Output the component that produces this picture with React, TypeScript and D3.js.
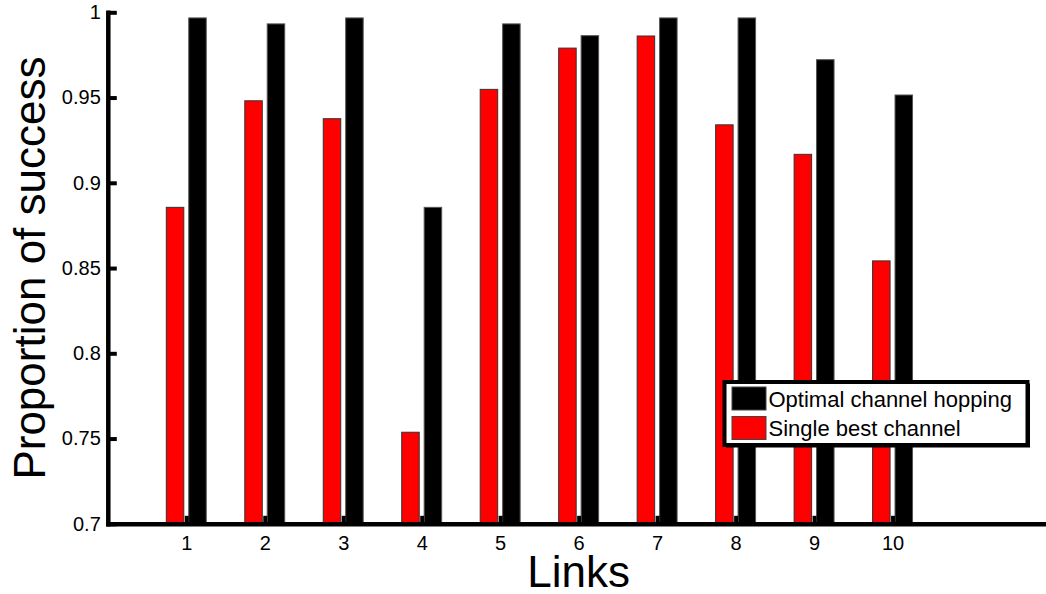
import * as d3 from "d3";
import React, { useEffect, useRef } from "react";

// link numbers on the x axis
const links = [1, 2, 3, 4, 5, 6, 7, 8, 9, 10];
// proportion of success per link
const optimalHopping = [0.9967, 0.9932, 0.9967, 0.8856, 0.9932, 0.9863, 0.9967, 0.9967, 0.9722, 0.9515];
const singleBest = [0.8856, 0.9481, 0.9376, 0.7537, 0.9548, 0.979, 0.9861, 0.934, 0.9167, 0.8542];
const yTicks = [0.7, 0.75, 0.8, 0.85, 0.9, 0.95, 1];
const seriesNames = ["Optimal channel hopping", "Single best channel"];
const seriesColors = ["#000000", "#ff0000"];

const W = 1046;
const H = 594;
const FONT = "'Liberation Sans', Arial, Helvetica, sans-serif";

const App: React.FC = () => {
  const svgRef = useRef<SVGSVGElement>(null);

  useEffect(() => {
    if (!svgRef.current) return;
    const svg = d3.select(svgRef.current);
    svg.selectAll("*").remove();

    const x = d3.scaleLinear().domain([0, 12]).range([107.8, 1049.5]);
    const y = d3.scaleLinear().domain([0.7, 1]).range([523.8, 12.3]);

    const barW = 0.223; // in link units
    const offset = 0.143;

    const data = links.map((l, i) => ({
      link: l,
      single: singleBest[i],
      hop: optimalHopping[i],
    }));

    // red bars (single best channel)
    svg
      .append("g")
      .selectAll("rect")
      .data(data)
      .enter()
      .append("rect")
      .attr("x", (d) => x(d.link - offset - barW / 2))
      .attr("width", x(barW) - x(0))
      .attr("y", (d) => y(d.single))
      .attr("height", (d) => y(0.7) - y(d.single))
      .attr("fill", seriesColors[1])
      .attr("stroke", "#333")
      .attr("stroke-width", 1);

    // black bars (optimal channel hopping)
    svg
      .append("g")
      .selectAll("rect")
      .data(data)
      .enter()
      .append("rect")
      .attr("x", (d) => x(d.link + offset - barW / 2))
      .attr("width", x(barW) - x(0))
      .attr("y", (d) => y(d.hop))
      .attr("height", (d) => y(0.7) - y(d.hop))
      .attr("fill", seriesColors[0])
      .attr("stroke", "#555")
      .attr("stroke-width", 1);

    // axes
    const yAxis = svg
      .append("g")
      .attr("transform", `translate(${x(0)},0)`)
      .call(
        d3
          .axisLeft(y)
          .tickValues(yTicks)
          .tickFormat((d) => String(d))
          .tickSizeInner(-9)
          .tickSizeOuter(0)
          .tickPadding(7)
      );
    yAxis.select(".domain").attr("stroke-width", 4.5).attr("stroke-linecap", "square");
    yAxis.selectAll(".tick line").attr("stroke-width", 4);
    yAxis
      .selectAll(".tick text")
      .attr("font-size", 20)
      .attr("font-family", FONT)
      .attr("fill", "#000");

    const xAxis = svg
      .append("g")
      .attr("transform", `translate(0,${y(0.7)})`)
      .call(
        d3
          .axisBottom(x)
          .tickValues(links)
          .tickFormat((d) => String(d))
          .tickSizeInner(-8)
          .tickSizeOuter(0)
          .tickPadding(12)
      );
    xAxis.select(".domain").attr("stroke-width", 4.5).attr("stroke-linecap", "square");
    xAxis.selectAll(".tick line").attr("stroke-width", 4);
    xAxis
      .selectAll(".tick text")
      .attr("font-size", 20)
      .attr("font-family", FONT)
      .attr("fill", "#000");

    // axis titles
    svg
      .append("text")
      .attr("x", (x(0) + x(12)) / 2)
      .attr("y", 586.5)
      .attr("text-anchor", "middle")
      .attr("font-size", 44)
      .attr("font-family", FONT)
      .text("Links");

    svg
      .append("text")
      .attr("transform", `translate(45,${(y(0.7) + y(1)) / 2}) rotate(-90)`)
      .attr("text-anchor", "middle")
      .attr("font-size", 44)
      .attr("font-family", FONT)
      .text("Proportion of success");

    // legend
    const lg = svg.append("g").attr("transform", "translate(724.5,382)");
    lg.append("rect")
      .attr("x", 1.5)
      .attr("y", 1.5)
      .attr("width", 304)
      .attr("height", 64)
      .attr("fill", "#000");
    lg.append("rect")
      .attr("width", 303)
      .attr("height", 63)
      .attr("fill", "#fff")
      .attr("stroke", "#000")
      .attr("stroke-width", 4);

    seriesNames.forEach((name, i) => {
      lg.append("rect")
        .attr("x", 7.5)
        .attr("y", 5 + i * 29.5)
        .attr("width", 34)
        .attr("height", 23)
        .attr("fill", seriesColors[i])
        .attr("stroke", "#444")
        .attr("stroke-width", 1);
      lg.append("text")
        .attr("x", 44)
        .attr("y", 24.7 + i * 29.5)
        .attr("font-size", 22)
        .attr("font-family", FONT)
        .text(name);
    });
  }, []);

  return (
    <svg
      ref={svgRef}
      width={W}
      height={H}
      style={{ position: "absolute", left: 0, top: 0, background: "#fff" }}
    />
  );
};

export default App;
